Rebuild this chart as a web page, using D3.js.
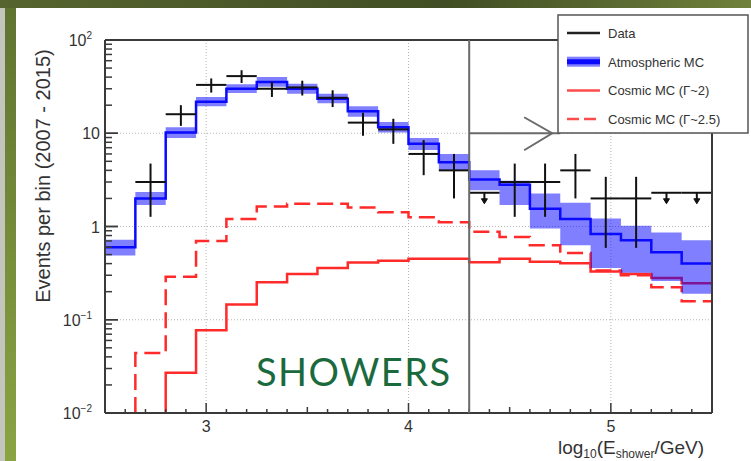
<!DOCTYPE html>
<html lang="en">
<head>
<meta charset="utf-8">
<title>showers</title>
<script src="https://d3js.org/d3.v7.min.js"></script>
<style type="text/css">
body { margin: 0; background: #fff; }
text { font-family: "Liberation Sans", Arial, sans-serif; fill: #333; }
</style>
</head>
<body>
<script type="text/javascript">

// bin edges in log10(E/GeV)
var edges = [2.5, 2.65, 2.8, 2.95, 3.1, 3.25, 3.4, 3.55, 3.7, 3.85, 4.0,
             4.15, 4.3, 4.45, 4.6, 4.75, 4.9, 5.05, 5.2, 5.35, 5.5];

// atmospheric MC (line + uncertainty band)
var atmMC = [0.6, 2.0, 10.2, 21.8, 30, 35.5, 30, 23.4, 17.2, 11.6,
             7.7, 4.9, 3.2, 2.8, 1.55, 1.2, 0.83, 0.71, 0.53, 0.40];
var atmLo = [0.49, 1.7, 8.9, 19.5, 27, 31.5, 26.5, 21, 15, 10.2,
             6.6, 4.0, 2.45, 1.7, 0.95, 0.63, 0.36, 0.32, 0.26, 0.19];
var atmHi = [0.72, 2.35, 11.6, 24.5, 33.5, 40, 34, 26.5, 19.5, 13.2,
             8.9, 6.0, 4.0, 3.1, 2.26, 1.8, 1.22, 1.02, 0.86, 0.71];

// cosmic MC
var cosmic2  = [null, null, 0.027, 0.077, 0.146, 0.253, 0.31, 0.36, 0.41, 0.43,
                0.45, 0.45, 0.414, 0.45, 0.42, 0.404, 0.33, 0.31, 0.28, 0.246];
var cosmic25 = [null, 0.044, 0.29, 0.70, 1.2, 1.64, 1.75, 1.75, 1.6, 1.42,
                1.26, 1.11, 0.88, 0.77, 0.63, 0.52, 0.337, 0.30, 0.223, 0.158];

// data
var counts  = [null, 3, 16, 33, 41, 30, 31, 24, 13, 11,
               6, 4, null, 3, 3, 4, 2, 2, null, null];
var errLow  = [null, 1.27, 12, 27.3, 34.6, 24.5, 25.4, 19.1, 9.4, 7.7,
               3.55, 2.0, null, 1.27, 1.27, 2.0, 0.59, 0.59, null, null];
var errHigh = [null, 4.73, 20, 38.7, 47.4, 35.5, 36.6, 28.9, 16.6, 14.3,
               8.45, 6.0, null, 4.73, 4.73, 6.0, 3.41, 3.41, null, null];
var upperLim = [null, null, null, null, null, null, null, null, null, null,
                null, null, 2.3, null, null, null, null, null, 2.3, 2.3];

var xTicks = [3, 4, 5];
var yTicks = [0.01, 0.1, 1, 10, 100];
var yTickLabels = [["10", "-2"], ["10", "-1"], ["1", ""], ["10", ""], ["10", "2"]];
var legendLabels = ["Data", "Atmospheric MC", "Cosmic MC (\u0393~2)", "Cosmic MC (\u0393~2.5)"];

var w = 751, h = 461;
var pLeft = 105, pRight = 712, pTop = 40, pBottom = 413;

var x = d3.scaleLinear().domain([2.5, 5.5]).range([pLeft, pRight]);
var y = d3.scaleLog().domain([0.01, 100]).range([pBottom, pTop]);

var svg = d3.select("body").append("svg")
    .attr("width", w)
    .attr("height", h);

// slide frame
var defs = svg.append("defs");
var gTop = defs.append("linearGradient").attr("id", "gtop");
gTop.append("stop").attr("offset", "0%").attr("stop-color", "#56652f");
gTop.append("stop").attr("offset", "60%").attr("stop-color", "#414d24");
gTop.append("stop").attr("offset", "100%").attr("stop-color", "#6f813b");
var gLeft = defs.append("linearGradient").attr("id", "gleft")
    .attr("x1", 0).attr("y1", 0).attr("x2", 0).attr("y2", 1);
gLeft.append("stop").attr("offset", "0%").attr("stop-color", "#5f7230");
gLeft.append("stop").attr("offset", "100%").attr("stop-color", "#8aa443");

svg.append("rect").attr("width", w).attr("height", h).attr("fill", "#ffffff");
svg.append("rect").attr("x", 0).attr("y", 0).attr("width", 16).attr("height", h).attr("fill", "url(#gleft)");
svg.append("rect").attr("x", 0).attr("y", 0).attr("width", 5).attr("height", h).attr("fill", "#c4c6bd");
svg.append("rect").attr("x", 0).attr("y", 0).attr("width", w).attr("height", 8).attr("fill", "url(#gtop)");

// grid
var grid = svg.append("g").attr("stroke", "#b5b5b5").attr("stroke-width", 1).attr("stroke-dasharray", "1,2");
grid.selectAll("line.gx").data(xTicks).enter().append("line")
    .attr("x1", function(d) { return x(d); }).attr("x2", function(d) { return x(d); })
    .attr("y1", pTop).attr("y2", pBottom);
grid.selectAll("line.gy").data([0.1, 1, 10]).enter().append("line")
    .attr("x1", pLeft).attr("x2", pRight)
    .attr("y1", function(d) { return y(d); }).attr("y2", function(d) { return y(d); });

// step outline of a histogram
function steps(vals, fromBottom) {
    var pts = [];
    vals.forEach(function(v, i) {
        if (v == null) return;
        if (pts.length == 0 && fromBottom) pts.push([x(edges[i]), pBottom]);
        pts.push([x(edges[i]), y(v)]);
        pts.push([x(edges[i + 1]), y(v)]);
    });
    return pts;
}
var line = d3.line();

// cosmic MC
svg.append("path").attr("d", line(steps(cosmic25, true)))
    .attr("fill", "none").attr("stroke", "#ff2a2a").attr("stroke-width", 2.5)
    .attr("stroke-dasharray", "16,7");
svg.append("path").attr("d", line(steps(cosmic2, true)))
    .attr("fill", "none").attr("stroke", "#ff2a2a").attr("stroke-width", 2.5);

// atmospheric band
var bandPts = [];
atmMC.forEach(function(v, i) {
    bandPts.push({x: edges[i], lo: atmLo[i], hi: atmHi[i]});
    bandPts.push({x: edges[i + 1], lo: atmLo[i], hi: atmHi[i]});
});
var area = d3.area()
    .x(function(d) { return x(d.x); })
    .y0(function(d) { return y(d.lo); })
    .y1(function(d) { return y(d.hi); });
svg.append("path").attr("d", area(bandPts))
    .attr("fill", "#0000ff").attr("fill-opacity", 0.5);
svg.append("path").attr("d", line(steps(atmMC, false)))
    .attr("fill", "none").attr("stroke", "#0a0aff").attr("stroke-width", 2.5);

// data crosses
var dat = svg.append("g").attr("stroke", "#111").attr("stroke-width", 2);
counts.forEach(function(c, i) {
    var cx = x((edges[i] + edges[i + 1]) / 2);
    if (c != null) {
        dat.append("line").attr("x1", x(edges[i])).attr("x2", x(edges[i + 1]))
            .attr("y1", y(c)).attr("y2", y(c));
        dat.append("line").attr("x1", cx).attr("x2", cx)
            .attr("y1", y(errHigh[i])).attr("y2", Math.min(y(errLow[i]), pBottom));
    }
    if (upperLim[i] != null) {
        var uy = y(upperLim[i]);
        dat.append("line").attr("x1", x(edges[i])).attr("x2", x(edges[i + 1]))
            .attr("y1", uy).attr("y2", uy);
        dat.append("line").attr("x1", cx).attr("x2", cx).attr("y1", uy).attr("y2", uy + 9);
        dat.append("path").attr("d", "M" + (cx - 3) + "," + (uy + 6) + "L" + (cx + 3) + "," + (uy + 6) + "L" + cx + "," + (uy + 11) + "Z")
            .attr("fill", "#111").attr("stroke-width", 1);
    }
});

// frame and ticks
var frame = svg.append("g").attr("stroke", "#3a3a3a").attr("stroke-width", 2).attr("fill", "none");
frame.append("line").attr("x1", pLeft).attr("x2", pRight).attr("y1", pBottom).attr("y2", pBottom);
frame.append("line").attr("x1", pLeft).attr("x2", pLeft).attr("y1", pTop).attr("y2", pBottom);
frame.append("line").attr("x1", pLeft).attr("x2", pRight).attr("y1", pTop).attr("y2", pTop);
frame.append("line").attr("x1", pRight).attr("x2", pRight).attr("y1", pTop).attr("y2", pBottom);

var xMinor = d3.range(25, 56).map(function(d) { return d / 10; });
svg.append("g").attr("stroke", "#3a3a3a").attr("stroke-width", 1.5)
    .selectAll("line").data(xMinor).enter().append("line")
    .attr("x1", function(d) { return x(d); }).attr("x2", function(d) { return x(d); })
    .attr("y1", pBottom)
    .attr("y2", function(d) {
        var r = Math.round(d * 10) % 10;
        return pBottom - (r == 0 ? 10 : (r == 5 ? 6 : 4));
    });

var yMinor = [];
[0.01, 0.1, 1, 10].forEach(function(dec) {
    for (var k = 1; k <= 10; k++) yMinor.push({v: dec * k, major: k == 1 || k == 10});
});
svg.append("g").attr("stroke", "#3a3a3a").attr("stroke-width", 1.5)
    .selectAll("line").data(yMinor).enter().append("line")
    .attr("x1", pLeft).attr("x2", function(d) { return pLeft + (d.major ? 13 : 7); })
    .attr("y1", function(d) { return y(d.v); }).attr("y2", function(d) { return y(d.v); });

// split line at log10 E = 4.3 and arrow
var sep = svg.append("g").attr("stroke", "#6a6a6a").attr("stroke-width", 2).attr("fill", "none");
sep.append("line").attr("x1", x(4.3)).attr("x2", x(4.3)).attr("y1", pTop).attr("y2", pBottom);
sep.append("line").attr("x1", x(4.3)).attr("x2", x(4.75)).attr("y1", y(10)).attr("y2", y(10));
sep.append("path").attr("d", "M" + (x(4.71) - 28) + "," + (y(10) - 16) + "L" + x(4.71) + "," + y(10) + "L" + (x(4.71) - 28) + "," + (y(10) + 17));

// axis labels
svg.selectAll("text.xt").data(xTicks).enter().append("text")
    .attr("x", function(d) { return x(d); }).attr("y", 432)
    .attr("text-anchor", "middle").attr("font-size", 16)
    .text(function(d) { return d; });

yTicks.forEach(function(v, i) {
    var lab = yTickLabels[i];
    var t = svg.append("text")
        .attr("x", lab[1] == "" ? 100 : 92).attr("y", y(v) + 6)
        .attr("text-anchor", "end").attr("font-size", 16);
    t.append("tspan").text(lab[0]);
    if (lab[1] != "") t.append("tspan").attr("dy", -7).attr("font-size", 10).text(lab[1].replace("-", "\u2212"));
});

svg.append("text")
    .attr("transform", "translate(50," + 176 + ") rotate(-90)")
    .attr("text-anchor", "middle").attr("font-size", 20)
    .text("Events per bin (2007 - 2015)");

var xt = svg.append("text").attr("x", 704).attr("y", 454)
    .attr("text-anchor", "end").attr("font-size", 19);
xt.append("tspan").text("log");
xt.append("tspan").attr("dy", 4).attr("font-size", 12).text("10");
xt.append("tspan").attr("dy", -4).text("(E");
xt.append("tspan").attr("dy", 4).attr("font-size", 12).text("shower");
xt.append("tspan").attr("dy", -4).text("/GeV)");

svg.append("text").attr("x", 256).attr("y", 386)
    .style("font-family", "Lato, 'Open Sans', sans-serif").style("fill", "#1b6a3e")
    .attr("font-size", 38).attr("textLength", 194)
    .text("SHOWERS");

// legend
var lg = svg.append("g");
lg.append("rect").attr("x", 558).attr("y", 15).attr("width", 190).attr("height", 118)
    .attr("fill", "#fff").attr("stroke", "#555").attr("stroke-width", 1.5);
var items = lg.selectAll("g.item").data(legendLabels).enter().append("g")
    .attr("transform", function(d, i) { return "translate(0," + (33 + i * 28.7) + ")"; });
items.append("text").attr("x", 608).attr("y", 5).attr("font-size", 13).text(function(d) { return d; });
items.each(function(d, i) {
    var g = d3.select(this);
    if (i == 0) g.append("line").attr("x1", 567).attr("x2", 600).attr("stroke", "#222").attr("stroke-width", 2.5);
    if (i == 1) {
        g.append("rect").attr("x", 567).attr("y", -5).attr("width", 33).attr("height", 10).attr("fill", "#0000ff").attr("fill-opacity", 0.5);
        g.append("line").attr("x1", 567).attr("x2", 600).attr("stroke", "#0a0aff").attr("stroke-width", 5);
    }
    if (i == 2) g.append("line").attr("x1", 567).attr("x2", 600).attr("stroke", "#ff4b4b").attr("stroke-width", 2.5);
    if (i == 3) g.append("line").attr("x1", 567).attr("x2", 600).attr("stroke", "#ff4b4b").attr("stroke-width", 2.5).attr("stroke-dasharray", "12,5");
});

</script>
</body>
</html>
